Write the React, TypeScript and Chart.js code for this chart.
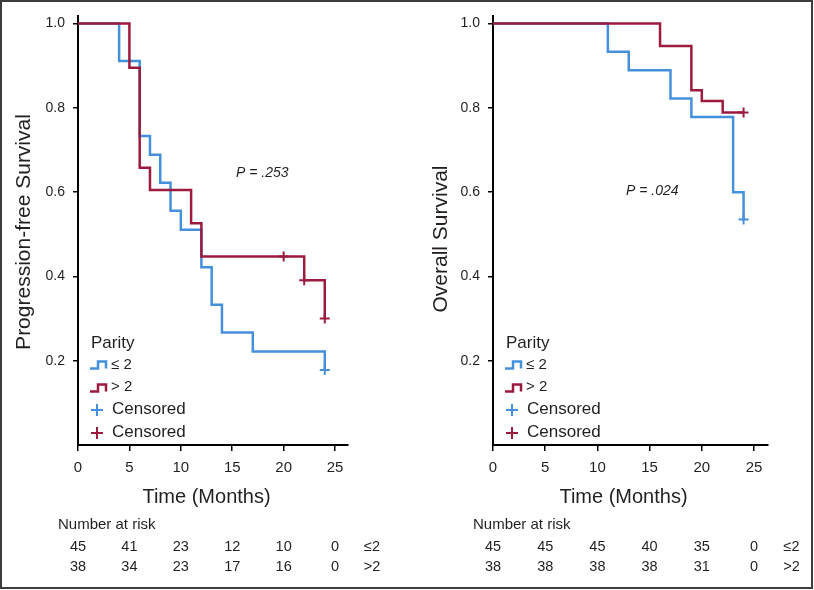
import React, { useEffect, useRef } from "react";
import { Chart, registerables } from "chart.js";

Chart.register(...registerables);

// ---------- data ----------
const pfsLowTimes = [0, 4, 6, 7, 8, 9, 10, 12, 13, 14, 17, 24];
const pfsLowSurv = [1, 0.911, 0.733, 0.689, 0.622, 0.556, 0.511, 0.422, 0.333, 0.267, 0.222, 0.178];
const pfsHighTimes = [0, 5, 6, 7, 11, 12, 22, 24];
const pfsHighSurv = [1, 0.895, 0.658, 0.605, 0.526, 0.447, 0.391, 0.3];
const pfsLowCensorTimes = [24];
const pfsLowCensorSurv = [0.178];
const pfsHighCensorTimes = [20, 22, 24];
const pfsHighCensorSurv = [0.447, 0.391, 0.3];

const osLowTimes = [0, 11, 13, 17, 19, 23, 24];
const osLowSurv = [1, 0.933, 0.889, 0.822, 0.778, 0.6, 0.535];
const osHighTimes = [0, 16, 19, 20, 22, 24];
const osHighSurv = [1, 0.947, 0.842, 0.816, 0.789, 0.789];
const osLowCensorTimes = [24];
const osLowCensorSurv = [0.535];
const osHighCensorTimes = [24];
const osHighCensorSurv = [0.789];

const xTicks = [0, 5, 10, 15, 20, 25];
const yTicks = [0.2, 0.4, 0.6, 0.8, 1.0];
const riskTimes = [0, 5, 10, 15, 20, 25];
const pfsRiskLow = [45, 41, 23, 12, 10, 0];
const pfsRiskHigh = [38, 34, 23, 17, 16, 0];
const osRiskLow = [45, 45, 45, 40, 35, 0];
const osRiskHigh = [38, 38, 38, 38, 31, 0];

const groupLabels = ["≤ 2", "> 2"];
const riskLabels = ["≤2", ">2"];

// ---------- styles ----------
const BLUE = "#4590dc";
const RED = "#9b1b3e";
const TXT = "#231f20";
const REG = "'Liberation Sans', Arial, Helvetica, sans-serif";

const pts = (t: number[], s: number[]) => t.map((x, i) => ({ x, y: s[i] }));

type PanelCfg = {
  yTitle: string;
  titleX: number;
  titleY: number;
  pText: string;
  pX: number;
  pY: number;
  lowT: number[];
  lowS: number[];
  highT: number[];
  highS: number[];
  lowCT: number[];
  lowCS: number[];
  highCT: number[];
  highCS: number[];
  riskLow: number[];
  riskHigh: number[];
  axisLeft: number;
  padRight: number;
  xMax: number;
};

function makeChart(canvas: HTMLCanvasElement, c: PanelCfg) {
  const overlay = {
    id: "overlay",
    afterDraw(chart: any) {
      const ctx = chart.ctx;
      const xs = chart.scales.x;
      const area = chart.chartArea;
      const L = area.left;
      ctx.save();
      ctx.fillStyle = TXT;
      ctx.textBaseline = "middle";

      // y title
      ctx.save();
      ctx.translate(c.titleX, c.titleY);
      ctx.rotate(-Math.PI / 2);
      ctx.textAlign = "center";
      ctx.font = `21px ${REG}`;
      ctx.fillText(c.yTitle, 0, 0);
      ctx.restore();

      // P value
      ctx.textAlign = "left";
      ctx.font = `italic 14px ${REG}`;
      ctx.fillText(c.pText, c.pX, c.pY);

      // legend
      ctx.font = `17px ${REG}`;
      ctx.fillText("Parity", L + 13, 343);
      const icon = (y: number, col: string) => {
        ctx.strokeStyle = col;
        ctx.lineWidth = 2.5;
        ctx.beginPath();
        ctx.moveTo(L + 12, y + 3.5);
        ctx.lineTo(L + 20, y + 3.5);
        ctx.lineTo(L + 20, y - 3.5);
        ctx.lineTo(L + 28, y - 3.5);
        ctx.lineTo(L + 28, y + 3.5);
        ctx.stroke();
      };
      icon(365, BLUE);
      icon(388, RED);
      ctx.font = `15px ${REG}`;
      ctx.fillText(groupLabels[0], L + 33, 365);
      ctx.fillText(groupLabels[1], L + 33, 387);
      const plus = (y: number, col: string) => {
        ctx.strokeStyle = col;
        ctx.lineWidth = 2;
        ctx.beginPath();
        ctx.moveTo(L + 13, y);
        ctx.lineTo(L + 25, y);
        ctx.moveTo(L + 19, y - 6);
        ctx.lineTo(L + 19, y + 6);
        ctx.stroke();
      };
      plus(410, BLUE);
      plus(433, RED);
      ctx.font = `17px ${REG}`;
      ctx.fillText("Censored", L + 34, 409);
      ctx.fillText("Censored", L + 34, 432);

      // x title
      ctx.textAlign = "center";
      ctx.font = `20px ${REG}`;
      ctx.fillText("Time (Months)", xs.getPixelForValue(12.5), 497);

      // risk table
      ctx.textAlign = "left";
      ctx.font = `15px ${REG}`;
      ctx.fillText("Number at risk", L - 20, 525);
      ctx.textAlign = "center";
      ctx.font = `14.5px ${REG}`;
      riskTimes.forEach((t, i) => {
        const px = xs.getPixelForValue(t);
        ctx.fillText(String(c.riskLow[i]), px, 547);
        ctx.fillText(String(c.riskHigh[i]), px, 567);
      });
      const lx = xs.getPixelForValue(28.6);
      ctx.fillText(riskLabels[0], lx, 547);
      ctx.fillText(riskLabels[1], lx, 567);
      ctx.restore();
    },
  };

  const line = (t: number[], s: number[], col: string, label: string, order: number) => ({
    label,
    data: pts(t, s),
    borderColor: col,
    backgroundColor: col,
    borderWidth: 2.5,
    stepped: true,
    pointRadius: 0,
    fill: false,
    order,
  });
  const cens = (t: number[], s: number[], col: string, label: string) => ({
    label,
    data: pts(t, s),
    borderColor: col,
    backgroundColor: col,
    showLine: false,
    pointStyle: "cross",
    pointRadius: 5,
    pointBorderWidth: 2,
    order: -1,
  });

  return new Chart(canvas, {
    type: "line",
    data: {
      datasets: [
        line(c.lowT, c.lowS, BLUE, "≤ 2", 2),
        line(c.highT, c.highS, RED, "> 2", 1),
        cens(c.lowCT, c.lowCS, BLUE, "Censored"),
        cens(c.highCT, c.highCS, RED, "Censored"),
      ] as any,
    },
    options: {
      responsive: false,
      animation: false,
      devicePixelRatio: 1,
      layout: { padding: { left: 0, right: c.padRight, top: 15, bottom: 105 } },
      plugins: { legend: { display: false }, tooltip: { enabled: false } },
      scales: {
        x: {
          type: "linear",
          min: 0,
          max: c.xMax,
          afterBuildTicks: (s: any) => {
            s.ticks = xTicks.map((v) => ({ value: v }));
          },
          afterFit: (s: any) => {
            s.height = 40;
          },
          ticks: {
            color: TXT,
            font: { family: REG, size: 15 },
            padding: 8,
            maxRotation: 0,
            autoSkip: false,
          },
          grid: { drawOnChartArea: false, drawTicks: true, tickLength: 6, color: "#000", lineWidth: 1.5 },
          border: { color: "#000", width: 2 },
        },
        y: {
          type: "linear",
          min: 0,
          max: 1.017,
          afterBuildTicks: (s: any) => {
            s.ticks = yTicks.map((v) => ({ value: v }));
          },
          afterFit: (s: any) => {
            s.width = c.axisLeft;
          },
          ticks: {
            color: TXT,
            font: { family: REG, size: 14 },
            padding: 8,
            callback: (v: any) => Number(v).toFixed(1),
          },
          grid: { drawOnChartArea: false, drawTicks: true, tickLength: 5, color: "#000", lineWidth: 1.5 },
          border: { color: "#000", width: 2 },
        },
      },
    } as any,
    plugins: [overlay],
  });
}

export default function App() {
  const leftRef = useRef<HTMLCanvasElement>(null);
  const rightRef = useRef<HTMLCanvasElement>(null);

  useEffect(() => {
    document.body.style.margin = "0";
    const a = makeChart(leftRef.current!, {
      yTitle: "Progression-free Survival",
      titleX: 24,
      titleY: 232,
      pText: "P = .253",
      pX: 236,
      pY: 173,
      lowT: pfsLowTimes,
      lowS: pfsLowSurv,
      highT: pfsHighTimes,
      highS: pfsHighSurv,
      lowCT: pfsLowCensorTimes,
      lowCS: pfsLowCensorSurv,
      highCT: pfsHighCensorTimes,
      highCS: pfsHighCensorSurv,
      riskLow: pfsRiskLow,
      riskHigh: pfsRiskHigh,
      axisLeft: 78,
      padRight: 59,
      xMax: 26.26,
    });
    const b = makeChart(rightRef.current!, {
      yTitle: "Overall Survival",
      titleX: 34,
      titleY: 239,
      pText: "P = .024",
      pX: 219,
      pY: 191,
      lowT: osLowTimes,
      lowS: osLowSurv,
      highT: osHighTimes,
      highS: osHighSurv,
      lowCT: osLowCensorTimes,
      lowCS: osLowCensorSurv,
      highCT: osHighCensorTimes,
      highCS: osHighCensorSurv,
      riskLow: osRiskLow,
      riskHigh: osRiskHigh,
      axisLeft: 86,
      padRight: 46,
      xMax: 26.34,
    });
    return () => {
      a.destroy();
      b.destroy();
    };
  }, []);

  return (
    <div style={{ position: "fixed", left: 0, top: 0, width: 814, height: 590, background: "#fff" }}>
      <canvas ref={leftRef} width={407} height={590} style={{ position: "absolute", left: 0, top: 0, width: 407, height: 590 }} />
      <canvas ref={rightRef} width={407} height={590} style={{ position: "absolute", left: 407, top: 0, width: 407, height: 590 }} />
      <div
        style={{
          position: "absolute",
          left: 0,
          top: 0,
          width: 813,
          height: 589,
          border: "2px solid #3c3c3c",
          boxSizing: "border-box",
          pointerEvents: "none",
        }}
      />
    </div>
  );
}
